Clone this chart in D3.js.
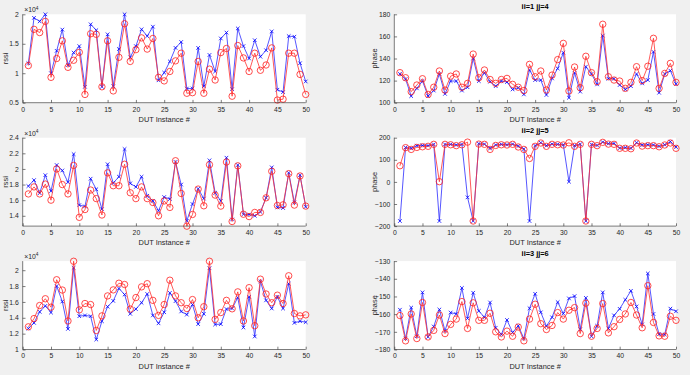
<!DOCTYPE html>
<html>
<head>
<meta charset="utf-8">
<script src="https://cdn.jsdelivr.net/npm/d3@7"></script>
<style>
  html, body { margin: 0; padding: 0; background: #f0f0f0; }
  svg { display: block; font-family: "Liberation Sans", Arial, sans-serif; }
  .tick text { fill: #262626; }
</style>
</head>
<body>
<div id="chart"></div>
<script>
// DUT instance index (x for every panel)
const instances = d3.range(1, 51);

// rssi, panel ii=1 (units of 1e4)
const rssi1Blue = [1.17,1.94,1.88,2.00,1.00,1.38,1.74,1.14,1.35,1.46,0.77,1.83,1.73,0.77,1.66,0.78,1.41,2.00,1.27,1.46,
  1.745,1.63,1.79,0.88,1.01,1.20,1.43,1.53,0.74,0.74,1.43,0.78,1.31,1.03,1.59,1.69,0.73,1.76,1.46,1.25,
  1.56,1.28,1.39,1.71,0.72,0.68,1.63,1.62,1.17,0.86];
const rssi1Red = [1.13,1.745,1.69,1.88,0.93,1.25,1.55,1.10,1.22,1.355,0.64,1.67,1.66,0.77,1.55,0.70,1.27,1.84,1.20,1.40,
  1.60,1.41,1.59,0.93,0.87,1.03,1.21,1.34,0.66,0.67,1.20,0.66,1.07,0.885,1.35,1.42,0.61,1.47,1.26,1.03,
  1.34,1.05,1.14,1.43,0.545,0.56,1.34,1.34,0.98,0.64];

// rssi, panel ii=2
const rssi2Blue = [1.78,1.857,1.69,1.92,1.716,2.05,1.98,1.83,2.19,1.537,1.52,1.875,1.74,1.485,2.06,1.82,1.90,2.255,1.815,1.77,
  1.90,1.656,1.59,1.464,1.64,1.614,2.09,1.80,1.336,1.55,1.746,1.62,2.11,1.695,1.59,2.144,1.353,2.05,1.42,1.417,
  1.40,1.45,1.63,2.02,1.507,1.50,1.95,1.57,1.92,1.515];
const rssi2Red = [1.68,1.77,1.68,1.806,1.60,2.00,1.80,1.68,2.045,1.38,1.48,1.73,1.62,1.41,1.95,1.785,1.785,2.06,1.695,1.62,
  1.77,1.62,1.57,1.40,1.59,1.507,2.105,1.686,1.267,1.417,1.742,1.528,2.054,1.665,1.524,2.088,1.327,2.04,1.42,1.39,
  1.443,1.443,1.63,1.97,1.532,1.54,1.94,1.537,1.91,1.524];

// rssi, panel ii=3
const rssi3Blue = [1.265,1.336,1.475,1.55,1.466,1.80,1.605,1.26,2.03,1.42,1.43,1.42,1.126,1.357,1.54,1.613,1.77,1.693,1.45,1.51,
  1.59,1.70,1.43,1.33,1.47,1.714,1.61,1.48,1.44,1.567,1.32,1.45,2.025,1.315,1.32,1.51,1.517,1.655,1.277,1.664,
  1.164,1.86,1.62,1.517,1.664,1.517,1.83,1.336,1.357,1.345];
const rssi3Red = [1.286,1.39,1.555,1.64,1.534,1.88,1.75,1.36,2.113,1.50,1.58,1.567,1.24,1.424,1.676,1.752,1.836,1.82,1.51,1.655,
  1.79,1.83,1.62,1.43,1.567,1.874,1.676,1.59,1.517,1.63,1.40,1.54,2.113,1.38,1.466,1.62,1.513,1.727,1.36,1.78,
  1.30,1.887,1.70,1.59,1.685,1.58,1.93,1.454,1.424,1.437];

// phase, panel ii=1 jj=4
const phase4Blue = [126,121.4,106,113,119.6,106,111,126,108,119.6,119.6,111,114,140,119.6,127,119,115,119.6,118.7,
  112,113.6,107.5,129.6,120.5,120.5,107,122,131,145.3,104.5,127,110,132.6,126,116.6,160.7,121.7,121.7,116,
  112,115,126,117.5,120.5,146,109,126,129,117];
const phase4Red = [127.2,122.6,110,116,121.7,107.5,114,128.7,111.4,124,126,114,117.5,144,122.6,129.6,121,117.5,121,122,
  116.6,114,111,134.7,123.5,128.7,111.5,125,139,153.7,110.6,132.3,113.6,142,127.2,119,171,123.5,120.5,119.6,
  113,118.4,132.6,120,133,158.3,113,126.5,135.6,118.4];

// phase, panel ii=2 jj=5
const phase5Blue = [-177,156,152,164,165,164,170,-177,170,170,167,170,-70,-177,173,171,152,167,170,168,
  171,162,149,-177,164,177,164,171,170,168,1,164,171,-177,170,165,180,173,174,153,
  155,152,177,167,168,167,161,168,182,158];
const phase5Red = [73,155,147,156,159,161,170,1,170,168,164,168,180,-177,171,170,147,165,168,167,
  170,158,147,106,161,176,161,170,168,167,177,161,170,-177,170,164,179,171,170,152,
  152,150,176,162,164,164,159,167,176,152];

// phase, panel ii=3 jj=6
const phase6Blue = [-157.5,-173.8,-156.3,-172.5,-147.7,-172.9,-167,-157.4,-169.4,-159.1,-159.9,-145.2,-162.4,-147.9,-158.2,-161.8,-153.4,-167.7,-171.5,-163.3,
  -170.4,-166.6,-173.8,-156.7,-148.5,-159,-166.8,-161.8,-153.2,-159.7,-151.1,-149.8,-168.5,-150.8,-172.5,-166.6,-147.7,-168.1,-160.7,-157,
  -151.9,-146.8,-155.7,-165.8,-137,-159.9,-171.3,-171.5,-156.9,-158.4];
const phase6Red = [-160.8,-175.1,-159.9,-173.8,-153.4,-172.9,-169.2,-160.5,-171,-165.8,-162.8,-152.9,-168.1,-153.6,-163.5,-163.5,-159.5,-170,-172.9,-169.6,
  -172.5,-167.3,-175.1,-162.8,-154.4,-165.4,-168.7,-166.4,-159.1,-162.8,-157.8,-156.3,-171,-153.8,-172.5,-168.1,-154,-170.6,-167.1,-163,
  -159.9,-153.4,-160.5,-167.7,-143.9,-164.7,-172.3,-172.5,-161.2,-163.5];

// axis limits and ticks
const xTicks = [0, 5, 10, 15, 20, 25, 30, 35, 40, 45, 50];
const rssi1Domain = [0.5, 2.0], rssi1Ticks = [0.5, 1, 1.5, 2];
const rssi2Domain = [1.268, 2.4], rssi2Ticks = [1.4, 1.6, 1.8, 2, 2.2, 2.4];
const rssi3Domain = [1.0, 2.115], rssi3Ticks = [1, 1.2, 1.4, 1.6, 1.8, 2];
const phase4Domain = [100, 180], phase4Ticks = [100, 120, 140, 160, 180];
const phase5Domain = [-200, 200], phase5Ticks = [-200, -100, 0, 100, 200];
const phase6Domain = [-180, -130], phase6Ticks = [-180, -170, -160, -150, -140, -130];
const titles = ['ii=1 jj=4', 'ii=2 jj=5', 'ii=3 jj=6'];

const width = 690, height = 375;
const colLeft = [22.7, 305.7];
const colRight = [394.3, 676];
const rowTops = [14.3, 137.7, 261.1];
const rowH = 88.4;

const svg = d3.select('#chart').append('svg')
  .attr('width', width)
  .attr('height', height);

svg.append('rect')
  .attr('width', width).attr('height', height)
  .attr('fill', '#f0f0f0');

const panels = [
  { col: colLeft, row: 0, domain: rssi1Domain, ticks: rssi1Ticks, blue: rssi1Blue, red: rssi1Red, ylabel: 'rssi', exp: true },
  { col: colRight, row: 0, domain: phase4Domain, ticks: phase4Ticks, blue: phase4Blue, red: phase4Red, ylabel: 'phase', title: titles[0] },
  { col: colLeft, row: 1, domain: rssi2Domain, ticks: rssi2Ticks, blue: rssi2Blue, red: rssi2Red, ylabel: 'rssi', exp: true },
  { col: colRight, row: 1, domain: phase5Domain, ticks: phase5Ticks, blue: phase5Blue, red: phase5Red, ylabel: 'phase', title: titles[1] },
  { col: colLeft, row: 2, domain: rssi3Domain, ticks: rssi3Ticks, blue: rssi3Blue, red: rssi3Red, ylabel: 'rssi', exp: true },
  { col: colRight, row: 2, domain: phase6Domain, ticks: phase6Ticks, blue: phase6Blue, red: phase6Red, ylabel: 'phase', title: titles[2] }
];

panels.forEach(drawPanel);

function drawPanel(p) {
  const top = rowTops[p.row];
  const bottom = top + rowH;
  const x = d3.scaleLinear().domain([0, 50]).range(p.col);
  const y = d3.scaleLinear().domain(p.domain).range([bottom, top]);
  const g = svg.append('g');

  // axes background
  g.append('rect')
    .attr('x', p.col[0]).attr('y', top)
    .attr('width', p.col[1] - p.col[0]).attr('height', rowH)
    .attr('fill', '#fff');

  // series
  const line = d3.line().x((d, i) => x(instances[i])).y(d => y(d));
  g.append('path').datum(p.blue)
    .attr('d', line).attr('fill', 'none')
    .attr('stroke', '#2b2bff').attr('stroke-width', 0.8);
  const s = 1.8;
  g.append('g').selectAll('path').data(p.blue).join('path')
    .attr('d', (d, i) => {
      const cx = x(instances[i]), cy = y(d);
      return `M${cx - s},${cy - s}L${cx + s},${cy + s}M${cx - s},${cy + s}L${cx + s},${cy - s}`;
    })
    .attr('stroke', '#0000ff').attr('stroke-width', 0.8);

  g.append('path').datum(p.red)
    .attr('d', line).attr('fill', 'none')
    .attr('stroke', '#ff3030').attr('stroke-width', 0.8);
  g.append('g').selectAll('circle').data(p.red).join('circle')
    .attr('cx', (d, i) => x(instances[i]))
    .attr('cy', d => y(d))
    .attr('r', 3.2)
    .attr('fill', 'none')
    .attr('stroke', '#ff2020').attr('stroke-width', 0.8);

  // axes
  const xAxis = d3.axisBottom(x).tickValues(xTicks).tickSize(-2.8).tickPadding(4);
  const yAxis = d3.axisLeft(y).tickValues(p.ticks).tickSize(-2.8).tickPadding(4)
    .tickFormat(d3.format('~g'));

  const gx = g.append('g').attr('transform', `translate(0,${bottom})`).call(xAxis);
  const gy = g.append('g').attr('transform', `translate(${p.col[0]},0)`).call(yAxis);
  [gx, gy].forEach(a => {
    a.select('.domain').attr('stroke', '#262626').attr('stroke-width', 0.6);
    a.selectAll('.tick line').attr('stroke', '#262626').attr('stroke-width', 0.6);
    a.selectAll('.tick text').attr('font-size', 6.8).attr('fill', '#262626');
  });
  gx.select('.domain').attr('d', `M${p.col[0]},0H${p.col[1]}`);
  gy.select('.domain').attr('d', `M0,${bottom}V${top}`);

  // x label
  g.append('text')
    .attr('x', (p.col[0] + p.col[1]) / 2)
    .attr('y', bottom + 19)
    .attr('text-anchor', 'middle')
    .attr('font-size', 7.4).attr('fill', '#262626')
    .text('DUT Instance #');

  // y label
  g.append('text')
    .attr('transform', `translate(${p.col[0] - (p.exp ? 14.5 : 17)},${(top + bottom) / 2}) rotate(-90)`)
    .attr('text-anchor', 'middle')
    .attr('font-size', 7.4).attr('fill', '#262626')
    .text(p.ylabel);

  // exponent label
  if (p.exp) {
    const t = g.append('text')
      .attr('x', p.col[0] + 1.5)
      .attr('y', top - 2)
      .attr('font-size', 6.8).attr('fill', '#262626');
    t.append('tspan').text('\u00d710');
    t.append('tspan').attr('font-size', 4.8).attr('dy', -2.8).text('4');
  }

  // title
  if (p.title) {
    g.append('text')
      .attr('x', (p.col[0] + p.col[1]) / 2)
      .attr('y', top - 5)
      .attr('text-anchor', 'middle')
      .attr('font-size', 7.4).attr('font-weight', 'bold').attr('fill', '#000')
      .text(p.title);
  }
}
</script>
</body>
</html>
